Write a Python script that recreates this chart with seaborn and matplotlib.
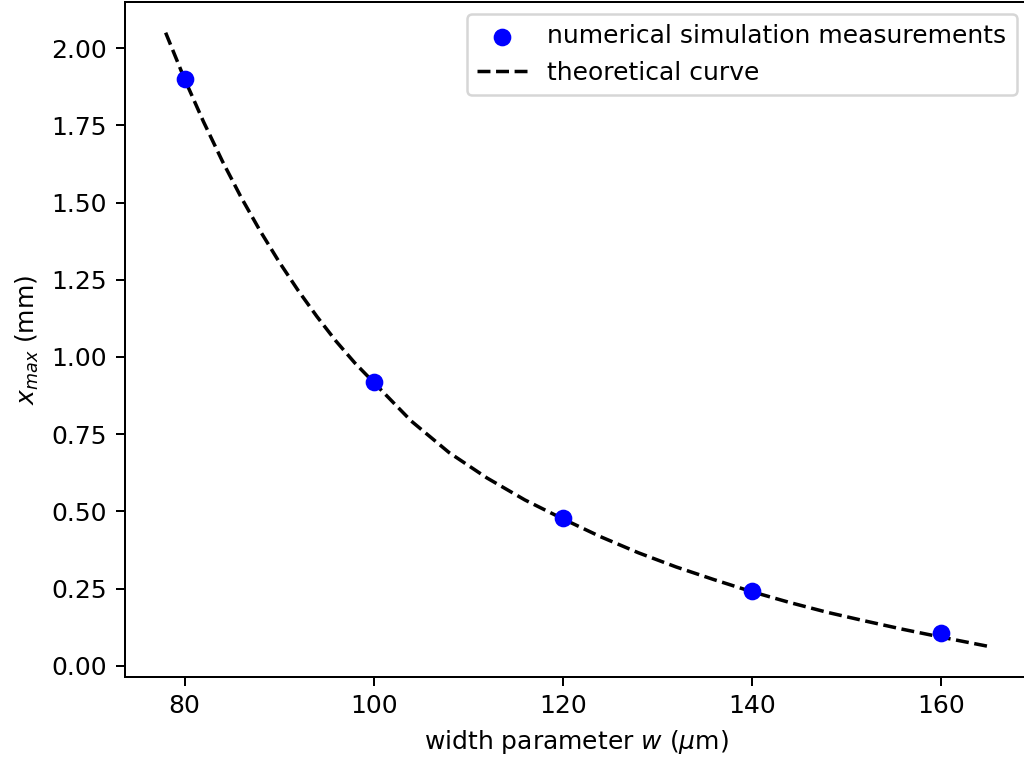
import numpy as np
import pandas as pd
import matplotlib
matplotlib.use("Agg")
import matplotlib.pyplot as plt
import seaborn as sns

# simulation measurements
w_sim = [80, 100, 120, 140, 160]
xmax_sim = [1.90, 0.918, 0.478, 0.241, 0.105]

# theoretical curve
w_theory = [78, 80, 82, 84, 86, 88, 90, 92, 94, 96, 98, 100,
            104, 108, 112, 116, 120, 124, 128, 132, 136, 140,
            144, 148, 152, 156, 160, 163, 165]
xmax_theory = [2.05, 1.90, 1.762, 1.634, 1.516, 1.408, 1.308, 1.216, 1.131, 1.052, 0.981, 0.918,
               0.792, 0.690, 0.608, 0.537, 0.476, 0.418, 0.366, 0.320, 0.279, 0.240,
               0.205, 0.173, 0.145, 0.118, 0.093, 0.075, 0.063]

df_sim = pd.DataFrame({"w": w_sim, "xmax": xmax_sim})
df_th = pd.DataFrame({"w": w_theory, "xmax": xmax_theory})

DPI = 180
fig = plt.figure(figsize=(1024 / DPI, 764 / DPI), dpi=DPI)
ax = fig.add_axes([0.1216, 0.1139, 1.005 - 0.1216, 0.9974 - 0.1139])

sns.scatterplot(data=df_sim, x="w", y="xmax", color="blue", s=50, linewidth=0,
                label="numerical simulation measurements", ax=ax, zorder=3)
sns.lineplot(data=df_th, x="w", y="xmax", color="black", linestyle="--",
             linewidth=1.4, label="theoretical curve", ax=ax)

ax.set_xlabel(r"width parameter $w$ ($\mu$m)")
ax.set_ylabel(r"$x_{max}$ (mm)")
ax.set_xticks([80, 100, 120, 140, 160])
ax.set_yticks(np.arange(0, 2.01, 0.25))
ax.legend(loc="upper right")

fig.savefig("out.png", dpi=DPI)
plt.close(fig)
